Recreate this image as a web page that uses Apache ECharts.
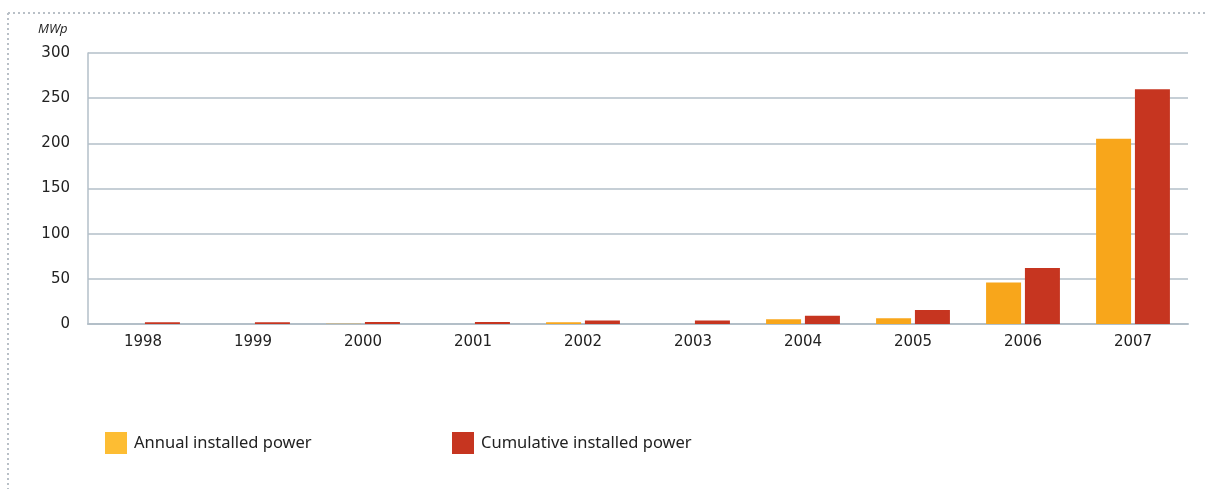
<!DOCTYPE html>
<html>
<head>
<meta charset="utf-8">
<script src="https://cdn.jsdelivr.net/npm/echarts@6/dist/echarts.min.js"></script>
<style>
html,body{margin:0;padding:0;background:#fff;}
#c{width:1206px;height:489px;}
</style>
</head>
<body>
<div id="c"></div>
<script>
var years = ['1998','1999','2000','2001','2002','2003','2004','2005','2006','2007'];
var annual = [0, 0, 0.4, 0, 1.8, 0, 5.2, 6.5, 46, 205];
var cumulative = [2, 2, 2.2, 2.2, 4, 4, 9, 15.5, 62, 260];
var yTicks = [0, 50, 100, 150, 200, 250, 300];

var chart = echarts.init(document.getElementById('c'));
var gridColor = '#b3bfc8';
chart.setOption({
  animation: false,
  backgroundColor: '#fff',
  graphic: [
    {type:'line', shape:{x1:8,y1:13,x2:1206,y2:13}, style:{stroke:'#b9c0c7', lineWidth:2, lineDash:[2,3]}},
    {type:'line', shape:{x1:8,y1:13,x2:8,y2:489}, style:{stroke:'#b9c0c7', lineWidth:2, lineDash:[2,3]}},
    {type:'text', left:38, top:23, style:{text:'MWp', font:'italic 13px "Open Sans"', fill:'#222'}}
  ],
  legend: [
    {left:105, top:432, padding:0, itemWidth:22, itemHeight:22, icon:'rect', selectedMode:false,
     textStyle:{fontFamily:'Noto Sans', fontSize:16.5, color:'#222', padding:[0,0,0,2]},
     data:[{name:'Annual installed power', itemStyle:{color:'#fdbd33'}}]},
    {left:452, top:432, padding:0, itemWidth:22, itemHeight:22, icon:'rect', selectedMode:false,
     textStyle:{fontFamily:'Noto Sans', fontSize:16.5, color:'#222', padding:[0,0,0,2]},
     data:[{name:'Cumulative installed power', itemStyle:{color:'#c63520'}}]}
  ],
  grid: {left:88, right:18, top:53, bottom:165, containLabel:false},
  xAxis: {
    type:'category', data: years,
    axisLine:{show:true, lineStyle:{color:gridColor, width:2}},
    axisTick:{show:false},
    axisLabel:{fontFamily:'DejaVu Sans', fontSize:15, color:'#222', margin:11}
  },
  yAxis: {
    type:'value', min:0, max:300, interval:50,
    axisLine:{show:true, lineStyle:{color:gridColor, width:1.5}},
    axisTick:{show:false},
    splitLine:{show:true, lineStyle:{color:gridColor, width:1.5}},
    axisLabel:{fontFamily:'DejaVu Sans', fontSize:15, color:'#222', margin:18, padding:[5,0,0,0],
      formatter:function(v){return yTicks.indexOf(v)>=0 ? String(v) : '';}}
  },
  series: [
    {name:'Annual installed power', type:'bar', data: annual, barWidth:35, barGap:'11%',
     itemStyle:{color:'#f8a61b'}},
    {name:'Cumulative installed power', type:'bar', data: cumulative, barWidth:35,
     itemStyle:{color:'#c63520'}}
  ]
});
</script>
</body>
</html>
